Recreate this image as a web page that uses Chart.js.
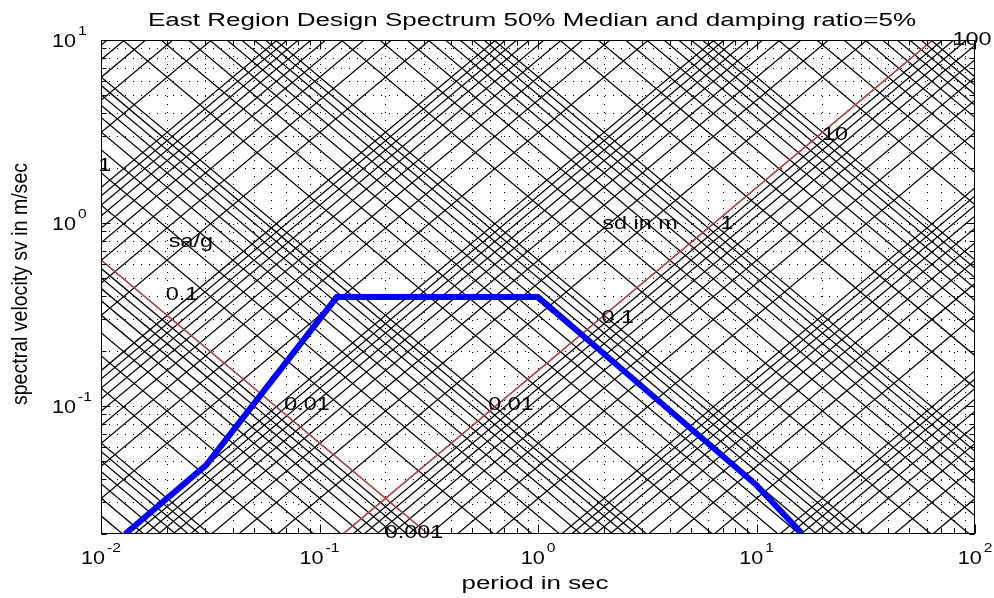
<!DOCTYPE html>
<html lang="en">
<head>
    <meta charset="UTF-8">
    <title>East Region Design Spectrum</title>
    <script src="https://cdn.jsdelivr.net/npm/chart.js"></script>
    <style>
        body { margin: 0; background: #fff; }
        #wrap { width: 994px; height: 598px; }
    </style>
</head>
<body>
    <div id="wrap">
        <canvas id="spectrumChart" width="994" height="598"></canvas>
    </div>
    <script>
        // design spectrum (period in sec, spectral velocity in m/sec)
        const periods = [0.0129, 0.0303, 0.120, 1.0, 10.0, 16.1];
        const spectralVelocity = [0.0200, 0.0476, 0.394, 0.394, 0.0370, 0.0202];

        // axes
        const periodRange = [0.01, 100];
        const velocityRange = [0.02, 10];
        const mantissas = [1, 2, 3, 4, 5, 6, 7, 8, 9];
        const periodDecades = [0.01, 0.1, 1, 10, 100];
        const velocityDecades = [0.01, 0.1, 1, 10];
        const periodLabelExp = [-2, -1, 0, 1, 2];
        const velocityLabelExp = [-1, 0, 1];

        // tripartite grid: sd in m, sa in g
        const sdDecades = [1e-5, 1e-4, 1e-3, 1e-2, 1e-1, 1, 10, 100];
        const saDecades = [1e-4, 1e-3, 1e-2, 1e-1, 1, 10, 100];
        const refSd = 0.001;
        const refSa = 0.1;
        const gravity = 9.81;

        // labels written on the grid
        const noteText = ["sa/g", "0.1", "0.01", "0.001", "1", "sd in m", "1", "0.1", "0.01", "10", "100"];
        const notePeriod = [0.0258, 0.0235, 0.0877, 0.271, 0.0104, 2.93, 7.33, 2.32, 0.752, 22.9, 96.8];
        const noteVelocity = [0.787, 0.405, 0.101, 0.0202, 2.05, 0.987, 0.987, 0.303, 0.101, 3.03, 10.0];

        const FONT = "'Liberation Sans', Arial, sans-serif";

        function buildTicks(decades, lo, hi) {
            let out = [];
            decades.forEach(d => {
                mantissas.forEach(m => {
                    const v = +(d * m).toPrecision(6);
                    if (v >= lo * 0.999 && v <= hi * 1.001) out.push({ value: v, major: m === 1 });
                });
            });
            return out;
        }
        const periodTicks = buildTicks(periodDecades, periodRange[0], periodRange[1]);
        const velocityTicks = buildTicks(velocityDecades, velocityRange[0], velocityRange[1]);

        function stretchText(ctx, text, x, y, sx, align) {
            ctx.save();
            ctx.translate(x, y);
            ctx.scale(sx, 1);
            ctx.textAlign = align;
            ctx.fillText(text, 0, 0);
            ctx.restore();
        }

        // "10" with a raised exponent, like the original tick labels
        function powLabel(ctx, exp, x, baseline, mode) {
            const sx = 1.2;
            ctx.font = "18px " + FONT;
            const wb = ctx.measureText("10").width * sx;
            ctx.font = "13px " + FONT;
            const we = ctx.measureText(String(exp)).width * sx;
            let start;
            if (mode === "center") start = x - (wb + 2 + we) / 2;
            else start = x - wb; // x is the right edge of "10"
            ctx.font = "18px " + FONT;
            stretchText(ctx, "10", start, baseline, sx, "left");
            ctx.font = "13px " + FONT;
            stretchText(ctx, String(exp), start + wb + 2, baseline - 12, sx, "left");
        }

        const tripartite = {
            id: "tripartite",
            beforeDatasetsDraw(chart) {
                const { ctx, chartArea: a, scales: { x, y } } = chart;
                ctx.save();
                ctx.beginPath();
                ctx.rect(a.left, a.top, a.right - a.left, a.bottom - a.top);
                ctx.clip();

                // dotted grid
                ctx.strokeStyle = "#000";
                ctx.lineWidth = 1;
                ctx.setLineDash([1, 7]);
                periodTicks.forEach(t => {
                    const px = Math.round(x.getPixelForValue(t.value)) + 0.5;
                    ctx.beginPath(); ctx.moveTo(px, a.top); ctx.lineTo(px, a.bottom); ctx.stroke();
                });
                velocityTicks.forEach(t => {
                    const py = Math.round(y.getPixelForValue(t.value)) + 0.5;
                    ctx.beginPath(); ctx.moveTo(a.left, py); ctx.lineTo(a.right, py); ctx.stroke();
                });
                ctx.setLineDash([]);

                const t0 = periodRange[0], t1 = periodRange[1];
                function sdLine(sd) {
                    ctx.beginPath();
                    ctx.moveTo(x.getPixelForValue(t0), y.getPixelForValue(2 * Math.PI * sd / t0));
                    ctx.lineTo(x.getPixelForValue(t1), y.getPixelForValue(2 * Math.PI * sd / t1));
                    ctx.stroke();
                }
                function saLine(sa) {
                    ctx.beginPath();
                    ctx.moveTo(x.getPixelForValue(t0), y.getPixelForValue(sa * gravity * t0 / (2 * Math.PI)));
                    ctx.lineTo(x.getPixelForValue(t1), y.getPixelForValue(sa * gravity * t1 / (2 * Math.PI)));
                    ctx.stroke();
                }

                ctx.strokeStyle = "#000";
                ctx.lineWidth = 1.25;
                sdDecades.forEach(d => mantissas.forEach(m => sdLine(d * m)));
                saDecades.forEach(d => mantissas.forEach(m => saLine(d * m)));

                ctx.strokeStyle = "#d84848";
                ctx.lineWidth = 1.3;
                sdLine(refSd);
                saLine(refSa);
                ctx.restore();

                // grid labels
                ctx.save();
                ctx.fillStyle = "#000";
                ctx.font = "18px " + FONT;
                ctx.textBaseline = "middle";
                noteText.forEach((txt, i) => {
                    stretchText(ctx, txt, x.getPixelForValue(notePeriod[i]), y.getPixelForValue(noteVelocity[i]), 1.3, "center");
                });
                ctx.restore();
            },
            afterDraw(chart) {
                const { ctx, chartArea: a, scales: { x, y } } = chart;
                ctx.save();
                ctx.strokeStyle = "#000";
                ctx.lineWidth = 1;
                const L = Math.round(a.left) + 0.5, R = Math.round(a.right) - 0.5;
                const T = Math.round(a.top) + 0.5, B = Math.round(a.bottom) - 0.5;
                ctx.strokeRect(L, T, R - L, B - T);

                // inward ticks on all four sides
                periodTicks.forEach(t => {
                    const px = Math.round(x.getPixelForValue(t.value)) + 0.5;
                    const len = t.major ? 9 : 5;
                    ctx.beginPath();
                    ctx.moveTo(px, B); ctx.lineTo(px, B - len);
                    ctx.moveTo(px, T); ctx.lineTo(px, T + len);
                    ctx.stroke();
                });
                velocityTicks.forEach(t => {
                    const py = Math.round(y.getPixelForValue(t.value)) + 0.5;
                    const len = t.major ? 9 : 5;
                    ctx.beginPath();
                    ctx.moveTo(L, py); ctx.lineTo(L + len, py);
                    ctx.moveTo(R, py); ctx.lineTo(R - len, py);
                    ctx.stroke();
                });

                ctx.fillStyle = "#000";
                ctx.textBaseline = "alphabetic";
                periodLabelExp.forEach(e => {
                    powLabel(ctx, e, x.getPixelForValue(Math.pow(10, e)), a.bottom + 30, "center");
                });
                velocityLabelExp.forEach(e => {
                    powLabel(ctx, e, a.left - 25, y.getPixelForValue(Math.pow(10, e)) + 6.5, "right");
                });

                // title
                ctx.font = "18px " + FONT;
                let title = "East Region Design Spectrum 50% Median and damping ratio=5%";
                stretchText(ctx, title, 532, 26, 768 / ctx.measureText(title).width, "center");

                // x axis title
                let xt = "period in sec";
                stretchText(ctx, xt, 535, 589, 147 / ctx.measureText(xt).width, "center");

                // y axis title, rotated
                ctx.font = "15px " + FONT;
                let yt = "spectral velocity sv in m/sec";
                const ys = 242 / ctx.measureText(yt).width;
                ctx.save();
                ctx.translate(27, 284);
                ctx.rotate(-Math.PI / 2);
                ctx.scale(ys, 1.5);
                ctx.textAlign = "center";
                ctx.fillText(yt, 0, 0);
                ctx.restore();

                ctx.restore();
            }
        };

        const ctx = document.getElementById("spectrumChart").getContext("2d");
        const spectrumChart = new Chart(ctx, {
            type: "line",
            data: {
                datasets: [{
                    label: "Design spectrum",
                    data: periods.map((t, i) => ({ x: t, y: spectralVelocity[i] })),
                    borderColor: "#0000ff",
                    borderWidth: 6,
                    pointRadius: 0,
                    fill: false,
                    tension: 0,
                    clip: 0
                }]
            },
            options: {
                responsive: false,
                animation: false,
                devicePixelRatio: 1,
                layout: { padding: { left: 101, top: 40, right: 19, bottom: 64 } },
                plugins: {
                    legend: { display: false },
                    title: { display: false },
                    tooltip: { enabled: false }
                },
                scales: {
                    x: { type: "logarithmic", min: periodRange[0], max: periodRange[1], display: false },
                    y: { type: "logarithmic", min: velocityRange[0], max: velocityRange[1], display: false }
                }
            },
            plugins: [tripartite]
        });
    </script>
</body>
</html>
